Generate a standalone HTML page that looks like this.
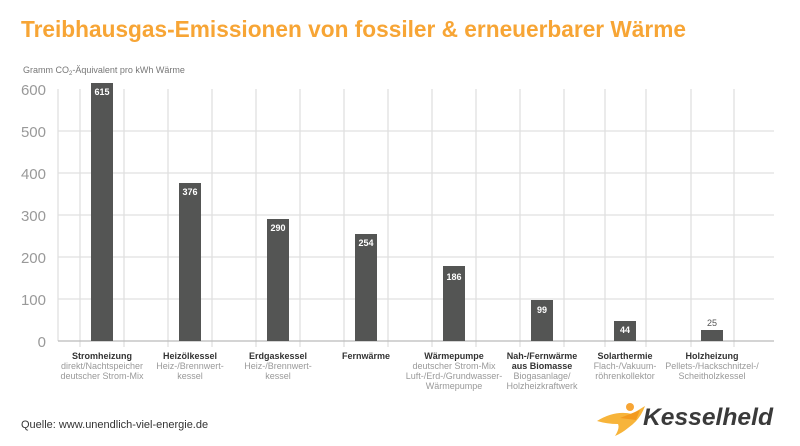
<!DOCTYPE html>
<html><head><meta charset="utf-8"><style>
html,body{margin:0;padding:0;background:#fff;}
svg{display:block;font-family:"Liberation Sans",sans-serif;}
</style></head><body>
<svg width="800" height="446" viewBox="0 0 800 446" xmlns="http://www.w3.org/2000/svg">
<text x="21" y="37" font-size="23" font-weight="bold" fill="#f7a535" textLength="665" lengthAdjust="spacingAndGlyphs">Treibhausgas-Emissionen von fossiler &amp; erneuerbarer Wärme</text>
<text x="23" y="73" font-size="9" fill="#777">Gramm CO<tspan font-size="6" dy="2">2</tspan><tspan dy="-2">-Äquivalent pro kWh Wärme</tspan></text>
<g stroke="#e0e0e0" stroke-width="1.3">
<line x1="58" y1="299" x2="774" y2="299"/>
<line x1="58" y1="257" x2="774" y2="257"/>
<line x1="58" y1="215" x2="774" y2="215"/>
<line x1="58" y1="173" x2="774" y2="173"/>
<line x1="58" y1="131" x2="774" y2="131"/>
<line x1="58" y1="89" x2="58" y2="341"/>
<line x1="80" y1="89" x2="80" y2="347"/><line x1="124" y1="89" x2="124" y2="347"/>
<line x1="168" y1="89" x2="168" y2="347"/><line x1="212" y1="89" x2="212" y2="347"/>
<line x1="256" y1="89" x2="256" y2="347"/><line x1="300" y1="89" x2="300" y2="347"/>
<line x1="344" y1="89" x2="344" y2="347"/><line x1="388" y1="89" x2="388" y2="347"/>
<line x1="432" y1="89" x2="432" y2="347"/><line x1="476" y1="89" x2="476" y2="347"/>
<line x1="520" y1="89" x2="520" y2="347"/><line x1="564" y1="89" x2="564" y2="347"/>
<line x1="605" y1="89" x2="605" y2="347"/><line x1="646" y1="89" x2="646" y2="347"/>
<line x1="691" y1="89" x2="691" y2="347"/><line x1="734" y1="89" x2="734" y2="347"/>
</g>
<line x1="58" y1="341" x2="774" y2="341" stroke="#bbb" stroke-width="1.3"/>
<g font-size="15" fill="#999" text-anchor="end">
<text x="46" y="95">600</text><text x="46" y="137">500</text><text x="46" y="179">400</text>
<text x="46" y="221">300</text><text x="46" y="263">200</text><text x="46" y="305">100</text><text x="46" y="347">0</text>
</g>
<g fill="#545554">
<rect x="91" y="83" width="22" height="258"/>
<rect x="179" y="183" width="22" height="158"/>
<rect x="267" y="219" width="22" height="122"/>
<rect x="355" y="234" width="22" height="107"/>
<rect x="443" y="266" width="22" height="75"/>
<rect x="531" y="300" width="22" height="41"/>
<rect x="614" y="321" width="22" height="20"/>
<rect x="701" y="330" width="22" height="11"/>
</g>
<g font-size="9" font-weight="bold" fill="#fff" text-anchor="middle">
<text x="102" y="95">615</text><text x="190" y="195">376</text><text x="278" y="231">290</text>
<text x="366" y="246">254</text><text x="454" y="280">186</text><text x="542" y="313">99</text>
<text x="625" y="333">44</text>
</g>
<text x="712" y="326" font-size="9" fill="#555" text-anchor="middle">25</text>
<g font-size="9" text-anchor="middle" fill="#999">
<g font-weight="bold" fill="#333">
<text x="102" y="359">Stromheizung</text><text x="190" y="359">Heizölkessel</text>
<text x="278" y="359">Erdgaskessel</text><text x="366" y="359">Fernwärme</text>
<text x="454" y="359">Wärmepumpe</text><text x="542" y="359">Nah-/Fernwärme</text>
<text x="542" y="369">aus Biomasse</text>
<text x="625" y="359">Solarthermie</text><text x="712" y="359">Holzheizung</text>
</g>
<text x="102" y="369">direkt/Nachtspeicher</text><text x="102" y="379">deutscher Strom-Mix</text>
<text x="190" y="369">Heiz-/Brennwert-</text><text x="190" y="379">kessel</text>
<text x="278" y="369">Heiz-/Brennwert-</text><text x="278" y="379">kessel</text>
<text x="454" y="369">deutscher Strom-Mix</text><text x="454" y="379">Luft-/Erd-/Grundwasser-</text><text x="454" y="389">Wärmepumpe</text>
<text x="542" y="379">Biogasanlage/</text><text x="542" y="389">Holzheizkraftwerk</text>
<text x="625" y="369">Flach-/Vakuum-</text><text x="625" y="379">röhrenkollektor</text>
<text x="712" y="369">Pellets-/Hackschnitzel-/</text><text x="712" y="379">Scheitholzkessel</text>
</g>
<text x="21" y="428" font-size="11" fill="#333">Quelle: www.unendlich-viel-energie.de</text>
<g>
<path d="M597 421 Q615 410 632 414 L645 406 Q640 420 628 428 Q622 433 615 436 Q620 428 618 424 Q607 424 597 421Z" fill="#f7b43a"/>
<circle cx="630" cy="407" r="4" fill="#f7a535"/>
<path d="M620 418 L640 410 L636 420Z" fill="#f39a1e"/>
</g>
<text x="643" y="425" font-size="24" font-weight="bold" font-style="italic" fill="#3a3a3a" textLength="130" lengthAdjust="spacingAndGlyphs">Kesselheld</text>
</svg>
</body></html>
